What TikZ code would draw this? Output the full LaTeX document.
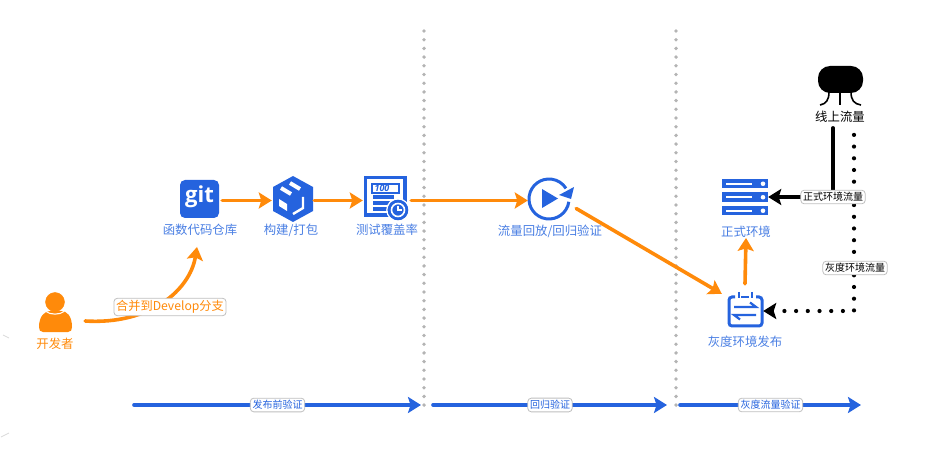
\documentclass[tikz,border=0pt]{standalone}
\usepackage{fontspec}
\setmainfont{Noto Sans CJK SC}
\newfontfamily\logofont{Open Sans}
\usetikzlibrary{arrows.meta}
\definecolor{flowblue}{HTML}{2563DE}
\definecolor{flowtext}{HTML}{4A7FE3}
\definecolor{floworange}{HTML}{FF8A0A}
\definecolor{dotgray}{HTML}{B4B4B4}
\tikzset{
    iconbox/.style={inner sep=0pt, minimum width=#1, minimum height=30pt},
    bluetext/.style={text=flowtext, font=\fontsize{12.4}{12.4}\selectfont, inner sep=0pt},
    chip/.style={draw=black!25, fill=white, rounded corners=3.5pt, line width=0.8pt, inner sep=2.2pt, font=\fontsize{10}{10}\selectfont},
    flowarrow/.style={draw=floworange, line width=3.6pt, line cap=round, -{Stealth[length=13pt,width=16pt,inset=2.5pt]}},
    stagearrow/.style={draw=flowblue, line width=3.6pt, line cap=round, -{Stealth[length=13pt,width=16pt,inset=2.5pt]}},
    blackarrow/.style={draw=black, line width=3.6pt, line cap=round, -{Stealth[length=13pt,width=16pt,inset=2.5pt]}},
    dotarrow/.style={blackarrow, line width=4.2pt, dash pattern=on 0pt off 11.7pt},
    divider/.style={draw=dotgray, line width=3.8pt, line cap=round, dash pattern=on 0pt off 8.7pt}
}
\begin{document}
\begin{tikzpicture}[x=1pt,y=-1pt]
    \useasboundingbox (0,0) rectangle (929,454);

    % Dividers
    \foreach \x in {424,676} {
        \draw[divider] (\x,31) -- (\x,411);
    }

    % Faint marks
    \draw[black!15, line width=0.7pt] (3,335) -- (9,338);
    \draw[black!15, line width=0.7pt] (1,437) -- (9,433);

    % Icon boxes
    \node[iconbox=44pt] (gitrepo) at (200,200.5) {};
    \node[iconbox=42pt] (packbox) at (293,200.5) {};
    \node[iconbox=48pt] (covbox) at (387,200.5) {};
    \node[iconbox=42pt] (replaybox) at (549,200.5) {};
    \node[iconbox=46pt] (prodbox) at (745,197) {};
    \node[iconbox=36pt, minimum height=34pt] (graybox) at (745,311) {};
    \node[iconbox=58pt] (devbox) at (56,321) {};

    % Git
    \fill[flowblue, rounded corners=5pt] (180,180) rectangle (219,218);
    \node[text=white, font=\logofont\bfseries\fontsize{22}{22}\selectfont, inner sep=0pt] (gitlogo) at (199.5,197) {git};

    % Package
    \fill[flowblue] (293,176) -- (313,187) -- (313,211) -- (293,222) -- (273,211) -- (273,187) -- cycle;
    \draw[white, line width=4pt] (281,188) -- (291,194) (290,183) -- (300,189);
    \fill[white] (279,199) -- (287,204) -- (287,211) -- (279,206) -- cycle;
    \draw[white, line width=2.4pt] (293,214) -- (303,208) -- (303,197);

    % Coverage
    \draw[flowblue, line width=3.4pt] (365.7,177.7) rectangle (405,215);
    \draw[flowblue, line width=2.2pt] (372,184) rectangle (399,193);
    \fill[white] (374,186) rectangle (397,191);
    \node[text=flowblue, font=\logofont\bfseries\itshape\fontsize{9}{9}\selectfont, inner sep=0pt] (covscore) at (382,188.5) {100};
    \foreach \y in {197,203,209} {
        \draw[flowblue, line width=3.4pt] (373,\y) -- (394,\y);
    }
    \fill[flowblue] (398,210) circle (10.5);
    \draw[white, line width=1.6pt] (398,210) circle (6.5);
    \draw[white, line width=1.3pt] (398,206) -- (398,210) -- (402,210);
    \draw[white, line width=1.2pt] (398,210) circle (11.2);

    % Replay
    \draw[flowblue, line width=3pt] (549,199) ++(8:20) arc (8:328:20);
    \fill[flowblue] (574,187) -- (559,195) -- (571,199) -- cycle;
    \fill[flowblue] (542,189) -- (558,198.5) -- (542,208) -- cycle;

    % Servers
    \foreach \y in {179,192.5,206} {
        \fill[flowblue] (722,\y) rectangle (768,\y+9.5);
        \draw[white, line width=2pt] (726,\y+4.75) -- (752,\y+4.75);
        \fill[white] (763,\y+4.75) circle (2.3);
    }

    % Gray release
    \draw[flowblue, line width=3pt, rounded corners=3pt] (735,297) -- (729,297) -- (729,326) -- (762,326) -- (762,297) -- (756,297);
    \draw[flowblue, line width=2.4pt] (739,292) -- (739,298) (752,292) -- (752,298) (741,297) -- (749,297);
    \draw[flowblue, line width=2.2pt] (734,307) -- (756,307) -- (750,302.5);
    \draw[flowblue, line width=2.2pt] (756,315) -- (734,315) -- (740,319.5);

    % Developer
    \fill[floworange] (43,332) .. controls (40,332) and (39,330) .. (39,327) .. controls (39,316) and (45,311) .. (50,311) -- (61,311) .. controls (67,311) and (72,316) .. (72,327) .. controls (72,330) and (71,332) .. (68,332) -- cycle;
    \draw[floworange, fill=floworange] (55,302) circle (9.5);
    \draw[white, line width=1.1pt] (46,311.5) .. controls (50,315) and (60,315) .. (64,311.5);

    % Cloud
    \fill[black, rounded corners=12pt] (818,66) rectangle (863,93);
    \draw[black, line width=1.6pt] (840,92) -- (840,105);
    \draw[black, line width=1.6pt] (829,92) .. controls (829,100) and (826,104) .. (820,105);
    \draw[black, line width=1.6pt] (851,92) .. controls (851,100) and (854,104) .. (861,105);

    % Labels
    \node[bluetext] (gitlabel) at (200,230) {函数代码仓库};
    \node[bluetext] (packlabel) at (291,230) {构建/打包};
    \node[bluetext] (covlabel) at (387,230) {测试覆盖率};
    \node[bluetext] (replaylabel) at (550,231) {流量回放/回归验证};
    \node[bluetext] (prodlabel) at (746,232) {正式环境};
    \node[bluetext] (graylabel) at (745,342) {灰度环境发布};
    \node[bluetext, text=floworange] (devlabel) at (55,344) {开发者};
    \node[bluetext, text=black] (onlinelabel) at (840,117) {线上流量};

    % Flow
    \draw[flowarrow] (gitrepo.east) -- (packbox.west);
    \draw[flowarrow] (packbox.east) -- (covbox.west);
    \draw[flowarrow] (covbox.east) -- (replaybox.west);
    \draw[flowarrow] ([shift={(6,8)}]replaybox.east) -- ([xshift=-5pt]graybox.north west);
    \draw[flowarrow] (graybox.north) ++(0,-10) -- (prodlabel.south);
    \draw[flowarrow] (devbox.east) .. controls (150,325) and (190,290) .. ([shift={(-3,11)}]gitlabel.south);

    % Traffic
    \draw[blackarrow] ([shift={(-7,5)}]onlinelabel.south) |- (prodbox.east);
    \draw[dotarrow] ([shift={(14,12)}]onlinelabel.south) |- (graybox.east);

    % Chips
    \node[chip, text=floworange, font=\fontsize{12.2}{12.2}\selectfont] (mergechip) at (170,307) {合并到Develop分支};
    \node[chip] (prodchip) at (833,197) {正式环境流量};
    \node[chip] (graychip) at (855,268) {灰度环境流量};

    % Stages
    \foreach \a/\b/\t in {134/421/发布前验证,433/667/回归验证,680/861/灰度流量验证} {
        \draw[stagearrow] (\a,405) -- node[chip, text=flowblue] {\t} (\b,405);
    }
\end{tikzpicture}
\end{document}
